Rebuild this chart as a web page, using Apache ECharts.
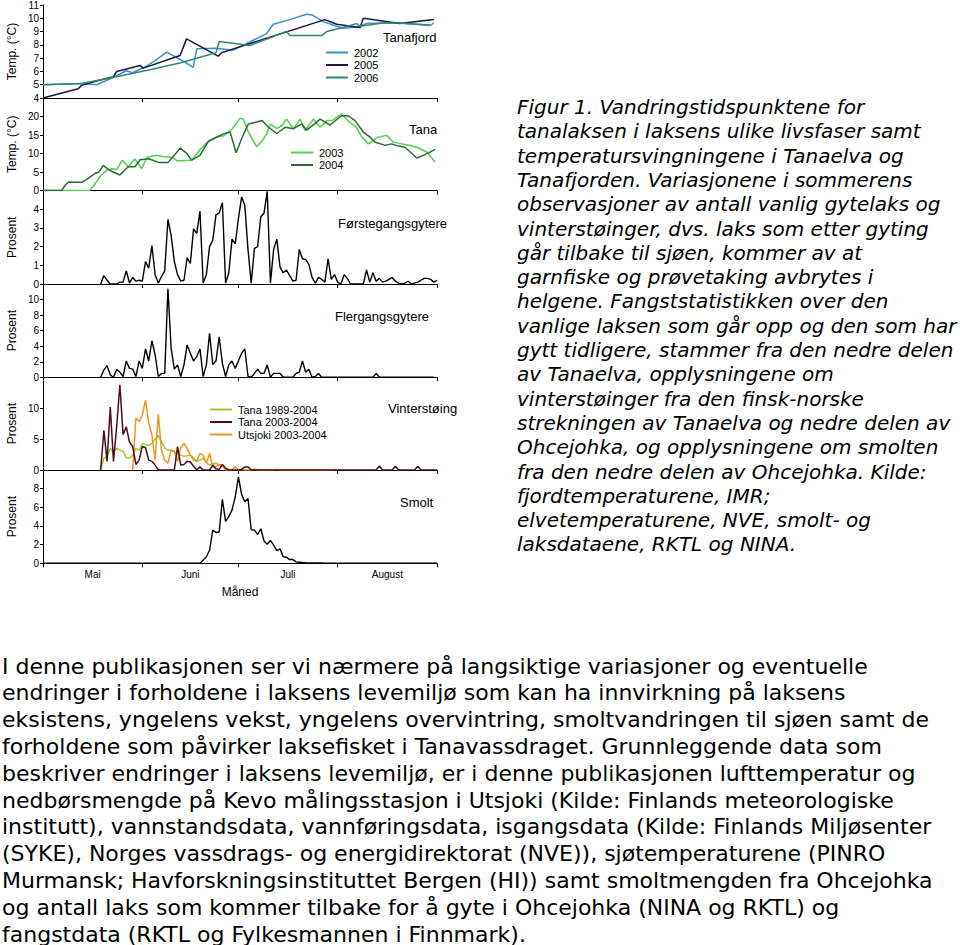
<!DOCTYPE html>
<html><head><meta charset="utf-8">
<script src="https://cdn.jsdelivr.net/npm/echarts@6/dist/echarts.min.js"></script>
<style>html,body{margin:0;padding:0;background:#fff}#c{width:960px;height:945px}</style>
</head><body><div id="c"></div>
<script>
// ---- axis labels ----
const monthNames = ['Mai','Juni','Juli','August'];
const monthStarts = [0,31,61,92,123];          // day index from 1 May
const monthMids = [15.5,46,76.5,107.5];

// ---- Tanafjord sea temperature [day, °C] ----
const fjord2002 = [[0,5.0],[11.5,5.1],[16.8,5.0],[22,5.55],[26,6.05],[28,5.9],[32,6.35],[35.5,6.9],[38.6,7.45],[42.8,6.9],[46.9,6.3],[48,7.7],[54,7.75],[59.4,7.6],[63.6,8.1],[69.8,8.85],[71.9,9.55],[77,9.9],[82.3,10.3],[84,10.25],[87.5,9.75],[91.7,9.4],[93.8,9.25],[98,9.35],[101,9.6],[106,9.65],[111,9.65],[120.8,9.45],[122,9.65]];
const fjord2005 = [[0,4.0],[11,4.7],[12,4.95],[17,5.3],[22,5.6],[23,6.0],[30.3,6.45],[31.3,6.25],[42.8,7.2],[44.8,8.45],[54.7,7.15],[55.8,7.4],[59.4,7.7],[88,9.9],[91.7,9.55],[99,9.3],[100,10.0],[111.4,9.6],[122,9.9]];
const fjord2006 = [[0,5.0],[12,5.1],[21,5.5],[33,6.1],[43,6.65],[54,7.4],[55,8.25],[64.6,7.95],[76,9.0],[77.1,8.7],[87,8.7],[88.6,9.0],[92.7,9.25],[97.9,9.6],[99,9.4],[106,9.65],[111,9.65],[120.8,9.5]];

// ---- Tana river temperature [day, °C] ----
const tana2003 = [[0,0],[14.5,0],[16,1.5],[18,4],[20,5.5],[21.5,5.9],[23,5.7],[24.8,8.2],[26.6,6.4],[28.7,8.5],[30.8,5.9],[32.5,9.0],[35.5,9.5],[37.6,9.1],[40.2,9.0],[42,8.0],[44,8.1],[46.4,8.2],[49,11],[51,12.8],[54.2,14.5],[56.5,14.8],[58.9,16.5],[61.5,19.5],[62.5,19.3],[64,16],[66.7,11.8],[68.5,13.5],[69.8,15.3],[71,18],[73,16.7],[74.5,17.5],[76,19.3],[78.2,16.7],[80.3,19.3],[81.8,16.2],[84.4,19.3],[86.5,17.1],[88.6,18.9],[90.5,19.0],[93.2,20.7],[95.8,18.4],[97.8,17.1],[99.5,14.5],[101.5,12.6],[103,13.5],[104.6,14.4],[107.2,14.9],[109.3,13.1],[111.9,12.6],[114,12.3],[116.6,11.7],[119.8,10.4],[122.4,7.7]];
const tana2004 = [[0,0],[5.8,0],[7,1.5],[8,2.3],[10,2.2],[12.1,2.2],[14,3.2],[16.2,4.6],[17.5,5.0],[18.8,6.8],[20,6.0],[21.4,5.2],[24,4.2],[26.6,6.4],[28.7,6.4],[30.3,8.3],[33,8.6],[36,7.6],[39.1,7.6],[41,9.5],[42.8,11.5],[44.8,10.1],[46.4,8.2],[49,9.5],[51.6,13.3],[54.2,14.4],[56.3,15.3],[58.4,15.8],[60.3,10.2],[62,14],[64.1,18.0],[66.7,18.5],[68.4,18.9],[70.4,17.1],[73,15.4],[75.6,17.1],[78.2,16.7],[80.8,18.0],[82.3,16.3],[84.5,17.8],[86.5,19.3],[89.6,17.7],[93.2,20.2],[95.3,20.2],[97.4,18.9],[100,15.8],[102,14.5],[103.6,13.1],[106.8,12.2],[108.8,12.6],[111,12.0],[113,11.7],[116.7,8.8],[119.3,9.7],[122.4,11.1]];

// ---- daily percentages (first value is day startDay) ----
const forstegangStart = 18;
const forstegang = [0,0.45,0.2,0,0,0,0.1,0.1,0.7,0.05,0.35,0.15,0.2,0.15,1.2,0.85,2.05,0.5,0.05,0.4,0.7,3.45,2.6,1.2,0.5,0.15,0.2,1.4,1.1,2.95,2.7,3.9,0.05,0.5,2.0,2.35,3.7,3.8,4.35,0.05,0.6,2.4,2.15,3.5,4.65,4.2,1.85,0.05,1.9,2.0,3.6,3.8,4.95,0.05,1.85,2.4,0.9,0.6,0.75,0.45,0.15,0.2,1.85,1.35,1.3,1.05,0.35,0.05,0.35,0.25,0.1,1.35,0.25,0.5,0.1,0,0.5,0.3,0,0,0,0,0,0.75,0.1,0.6,0.15,0.3,0.1,0.15,0.25,0.35,0.15,0.05,0,0.05,0.15,0,0.05,0.1,0.2,0.3,0.3,0.25,0.1,0.2];

const flergangStart = 18;
const flergang = [0,0.95,1.5,0.3,0,1.0,0.65,0.1,2.1,1.15,1.05,0.1,2.1,1.15,3.65,2.1,4.7,2.9,0.1,0.5,0.5,11.4,3.75,1.05,1.6,0.1,1.6,4.15,3.1,2.1,2.65,3.65,0.1,1.6,5.65,1.65,2.1,5.2,1.8,0.1,1.6,2.1,1.15,2.1,3.1,3.65,0.1,0,0.5,1.05,0.5,0.5,1.6,0,0.5,0.5,0.5,0,0,0,0,0.5,0.65,2.1,0.65,1.05,0,0.1,0.5,0,0,0,0,0,0,0,0,0,0,0,0,0,0,0,0,0,0.5,0,0,0,0,0,0,0,0,0,0,0,0,0,0,0,0,0,0];

const vinterTana8904Start = 18;
const vinterTana8904 = [0,1.9,2.2,3.5,3.0,3.5,3.2,3.0,2.0,1.9,2.4,3.5,3.2,4.3,4.1,4.0,4.3,5.0,5.6,4.5,3.6,3.2,3.2,3.0,2.6,2.4,2.2,2.3,2.4,2.0,1.4,1.6,1.9,1.2,0.8,1.0,1.1,0.8,0.5,0.3];
const vinterTana0304Start = 18;
const vinterTana0304 = [0,6.4,1.4,10.2,1.4,7.0,13.8,5.7,7.0,4.5,3.8,0.9,1.6,3.8,3.6,1.6,1.4,0.8,0,0,0,0,0,0,3.8,0.8,0.9,1.4,1.3,0.6,0,0.5,0,0,0,0.8,0.2,0.1,0.9,0.3,0,0,0,0,0.1,0.5,0.5,0,0,0,0,0,0,0,0,0,0,0,0,0,0,0,0,0,0,0,0,0,0,0,0,0,0,0,0,0,0,0,0,0,0,0,0,0,0,0,0,0.65,0,0,0,0,0.6,0,0,0,0,0,0,0.6,0,0,0,0,0,0];
const vinterUtsjokiStart = 28;
const vinterUtsjoki = [0,8.4,7.8,8.9,11.3,7.6,5.7,1.6,9.0,3.2,1.6,1.1,3.2,3.0,1.4,3.6,4.3,3.5,2.4,1.6,1.4,2.7,2.4,1.1,2.7,0.5,0.5,0.9,0.8,0,0,0,0.5,0,0.1,0,0,0,0.15,0,0,0,0,0,0,0.1,0,0,0,0,0,0,0,0,0,0,0,0,0,0,0,0,0,0];

const smoltStart = 0;
const smolt = [0,0,0,0,0,0,0,0,0,0,0,0,0,0,0,0,0,0,0,0,0,0,0,0,0,0,0,0,0,0,0,0,0,0,0,0,0,0,0,0,0,0,0,0,0,0,0,0,0,0,0.35,0.7,1.4,3.55,3.3,3.35,6.85,4.5,5.0,5.7,7.1,9.25,7.4,6.6,6.95,3.6,3.55,3.1,3.7,2.4,2.05,2.45,1.95,1.35,1.55,0.7,0.65,0.4,0.4,0.15,0.12,0.08,0.06,0.05,0.04,0.04,0.03,0.03,0.02,0.02,0.01,0,0,0,0,0,0,0,0,0,0,0,0,0,0,0,0,0,0,0,0,0,0,0,0,0,0,0,0,0,0,0,0,0];

// ---- texts ----
const captionLines = [
 'Figur 1. Vandringstidspunktene for',
 'tanalaksen i laksens ulike livsfaser samt',
 'temperatursvingningene i Tanaelva og',
 'Tanafjorden. Variasjonene i sommerens',
 'observasjoner av antall vanlig gytelaks og',
 'vinterstøinger, dvs. laks som etter gyting',
 'går tilbake til sjøen, kommer av at',
 'garnfiske og prøvetaking avbrytes i',
 'helgene. Fangststatistikken over den',
 'vanlige laksen som går opp og den som har',
 'gytt tidligere, stammer fra den nedre delen',
 'av Tanaelva, opplysningene om',
 'vinterstøinger fra den finsk-norske',
 'strekningen av Tanaelva og nedre delen av',
 'Ohcejohka, og opplysningene om smolten',
 'fra den nedre delen av Ohcejohka. Kilde:',
 'fjordtemperaturene, IMR;',
 'elvetemperaturene, NVE, smolt- og',
 'laksdataene, RKTL og NINA.'
];
const paragraphLines = [
 'I denne publikasjonen ser vi nærmere på langsiktige variasjoner og eventuelle',
 'endringer i forholdene i laksens levemiljø som kan ha innvirkning på laksens',
 'eksistens, yngelens vekst, yngelens overvintring, smoltvandringen til sjøen samt de',
 'forholdene som påvirker laksefisket i Tanavassdraget. Grunnleggende data som',
 'beskriver endringer i laksens levemiljø, er i denne publikasjonen lufttemperatur og',
 'nedbørsmengde på Kevo målingsstasjon i Utsjoki (Kilde: Finlands meteorologiske',
 'institutt), vannstandsdata, vannføringsdata, isgangsdata (Kilde: Finlands Miljøsenter',
 '(SYKE), Norges vassdrags- og energidirektorat (NVE)), sjøtemperaturene (PINRO',
 'Murmansk; Havforskningsinstituttet Bergen (HI)) samt smoltmengden fra Ohcejohka',
 'og antall laks som kommer tilbake for å gyte i Ohcejohka (NINA og RKTL) og',
 'fangstdata (RKTL og Fylkesmannen i Finnmark).'
];

// ---- build ----
const FF = '"Liberation Sans", Arial, sans-serif';
const daily = (start, arr) => arr.map((v, i) => [start + i, v]);

const grids = [
  {top:5, height:93}, {top:98, height:92.5}, {top:190.5, height:93.5},
  {top:284, height:93.3}, {top:377.3, height:92.7}, {top:470, height:93.3}
].map(g => Object.assign({left:43, width:394, containLabel:false}, g));

const yDefs = [
  {min:4, max:11, interval:1, name:'Temp. (°C)', showMax:true},
  {min:0, max:25, interval:5, name:'Temp. (°C)'},
  {min:0, max:5, interval:1, name:'Prosent'},
  {min:0, max:12, interval:2, name:'Prosent'},
  {min:0, max:15, interval:5, name:'Prosent'},
  {min:0, max:10, interval:2, name:'Prosent'}
];

const xAxes = grids.map((g, i) => {
  const last = i === grids.length - 1;
  return {
    type:'value', gridIndex:i, min:0, max:123,
    axisLine:{show:true, onZero:false, lineStyle:{color:'#000', width:1}},
    axisTick:{show:true, customValues: monthStarts, length:4, lineStyle:{color:'#000', width:1}},
    axisLabel:{show:last, customValues: monthMids, color:'#000', fontSize:10, fontFamily:FF, margin:6,
      formatter: v => monthNames[monthMids.indexOf(v)] || ''},
    splitLine:{show:false},
    name: last ? 'Måned' : '', nameLocation:'middle', nameGap:23,
    nameTextStyle:{color:'#000', fontSize:12, fontFamily:FF}
  };
});

const yAxes = yDefs.map((d, i) => ({
  type:'value', gridIndex:i, min:d.min, max:d.max, interval:d.interval,
  axisLine:{show:true, lineStyle:{color:'#000', width:1}},
  axisTick:{show:true, length:3, lineStyle:{color:'#000'}},
  axisLabel:{color:'#000', fontSize:10, fontFamily:FF, margin:4, showMaxLabel: !!d.showMax},
  splitLine:{show:false},
  name:d.name, nameLocation:'middle', nameGap:25,
  nameTextStyle:{color:'#000', fontSize:12, fontFamily:FF}
}));

const line = (name, i, data, color, w) => ({
  type:'line', name, xAxisIndex:i, yAxisIndex:i, data, symbol:'none',
  lineStyle:{color, width:w || 1.5}, itemStyle:{color}, animation:false, silent:true
});

const series = [
  line('2002', 0, fjord2002, '#3a8fd3'),
  line('2005', 0, fjord2005, '#16164a'),
  line('2006', 0, fjord2006, '#2f8a6a'),
  line('2003', 1, tana2003, '#4fd24f'),
  line('2004', 1, tana2004, '#2a6a35'),
  line('Førstegangsgytere', 2, daily(forstegangStart, forstegang), '#000', 1.4),
  line('Flergangsgytere', 3, daily(flergangStart, flergang), '#000', 1.4),
  line('Tana 1989-2004', 4, daily(vinterTana8904Start, vinterTana8904), '#9ccc2a'),
  line('Utsjoki 2003-2004', 4, daily(vinterUtsjokiStart, vinterUtsjoki), '#f0961e'),
  line('Tana 2003-2004', 4, daily(vinterTana0304Start, vinterTana0304), '#4a0d1c'),
  line('Smolt', 5, daily(smoltStart, smolt), '#000', 1.4)
];

const legendBase = {orient:'vertical', icon:'rect', itemWidth:22, itemHeight:2, itemGap:1.5, selectedMode:false,
  textStyle:{color:'#000', fontSize:11, fontFamily:FF, padding:[0,0,0,1], lineHeight:11}, padding:0};
const legends = [
  Object.assign({}, legendBase, {data:['2002','2005','2006'], left:326, top:47}),
  Object.assign({}, legendBase, {data:['2003','2004'], left:291, top:147}),
  Object.assign({}, legendBase, {data:['Tana 1989-2004','Tana 2003-2004','Utsjoki 2003-2004'], left:210, top:404})
];

const panelLabels = [
  ['Tanafjord', 383, 37], ['Tana', 409, 129], ['Førstegangsgytere', 338, 223],
  ['Flergangsgytere', 335, 316], ['Vinterstøing', 388, 408], ['Smolt', 400, 502]
];

const graphics = [];
panelLabels.forEach(([t, x, y]) => graphics.push({type:'text', silent:true,
  style:{text:t, x, y, fill:'#000', font:'13px ' + FF, verticalAlign:'middle', align:'left'}}));
captionLines.forEach((t, k) => graphics.push({type:'text', silent:true,
  style:{text:t, x:517, y:107 + k*24.3, fill:'#000', font:'italic 20px "DejaVu Sans", Verdana, sans-serif', verticalAlign:'middle', align:'left'}}));
paragraphLines.forEach((t, k) => graphics.push({type:'text', silent:true,
  style:{text:t, x:2, y:666 + k*26.8, fill:'#000', font:'22px "DejaVu Sans", Verdana, sans-serif', verticalAlign:'middle', align:'left'}}));

const chart = echarts.init(document.getElementById('c'), null, {renderer:'svg'});
chart.setOption({
  animation:false,
  backgroundColor:'#fff',
  grid: grids, xAxis: xAxes, yAxis: yAxes, series, legend: legends, graphic: graphics
});
</script></body></html>
